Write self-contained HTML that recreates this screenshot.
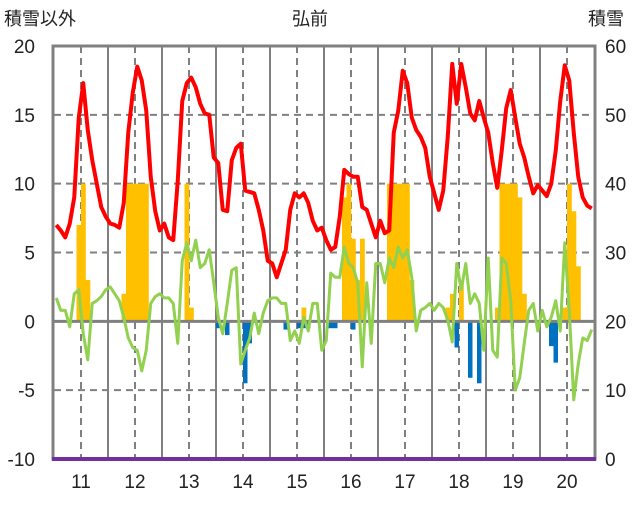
<!DOCTYPE html>
<html><head><meta charset="utf-8">
<style>
body{margin:0;background:#fff;width:636px;height:501px;overflow:hidden;font-family:"Liberation Sans","Noto Sans CJK JP",sans-serif}
svg text{font-family:"Liberation Sans","Noto Sans CJK JP",sans-serif;fill:#222}
</style></head>
<body>
<svg id="chart" width="636" height="501"></svg>
<script>
const years = ["11","12","13","14","15","16","17","18","19","20"];
const leftTicks = [20,15,10,5,0,-5,-10];
const rightTicks = [60,50,40,30,20,10,0];
const redValues = [
7,6.6,6.1,7.1,9,14.8,17.3,13.9,11.7,10,8.3,7.6,
7.1,7,6.8,8.6,13.7,16.6,18.5,17.5,15.3,10.5,8,6.6,
7.1,6.1,5.9,10.2,16,17.3,17.7,17,15.8,15.1,15,11.9,
11.5,8.1,8,11.7,12.6,12.9,9.5,9.4,9.3,8.1,6.6,4.4,
4.2,3.2,4.2,5.2,8.1,9.3,9,9.3,8.6,7.3,6.6,6.8,
5.9,5.2,5.4,7.6,11,10.7,10.5,10.5,8.3,8.1,7.1,6.1,
7.3,6.4,6.6,13.7,15.3,18.2,17.3,14.8,13.9,13.4,12.6,10.5,
9.3,8.1,9.5,13.4,18.7,15.8,18.7,17,15.1,14.6,16,14.8,
13.7,11.5,9.7,12.4,15.5,16.8,14.8,12.9,11.9,10.5,9.3,9.9,
9.5,9.1,10,12.4,16,18.6,17.5,13.7,10.5,9,8.4,8.2];
const greenValues = [
1.7,0.8,0.8,-0.4,2,2.3,-0.9,-2.8,1.3,1.5,1.8,2.3,
2.5,2,1.5,0.3,-1.2,-1.9,-2.1,-3.6,-2.1,1.3,1.8,2,
1.7,1.7,1.3,-1.6,4.4,5.7,4.4,5.9,3.9,4.2,5.2,2.8,
0.3,-0.9,1.3,3.7,3.9,-3.1,-2.1,-1.2,0.6,-0.9,0.6,1.5,
1.7,1.7,1.3,1.3,-1.4,-0.7,-1.6,0.3,-0.7,1.3,1.3,-2.1,
-1.4,3.5,3.2,3.2,5.4,4.2,3.9,2.8,-3.3,2.8,-1.6,4.2,
4.2,2.8,4.6,3.9,5.4,4.6,5.2,3.2,-0.7,0.8,1,1.3,
0.8,1.3,1,0.1,-1.5,4.2,2.3,4.2,1.3,2,1.3,-2.1,
4.6,-2.1,-2.6,4.6,4.2,1.5,-5,-4.1,-1.6,0.8,1.3,-0.7,
0.8,-0.4,0.3,1.5,-0.7,5.7,0.8,-5.7,-3.1,-1.2,-1.4,-0.6];
const snowMonths = [5,6,7,15,16,17,18,19,20,29,30,55,64,65,66,67,68,74,75,76,77,78,79,87,88,90,98,99,100,101,102,103,104,113,114,115,116];
const snowValues = [34,40,26,24,40,40,40,40,40,40,22,22,38,40,32,26,32,40,40,40,40,40,26,22,24,26,22,40,40,40,40,38,24,22,40,36,28];
const blueMonths = [36,38,42,43,51,54,55,56,61,62,66,89,92,94,110,111];
const blueValues = [-0.5,-1,-4.5,-1.6,-0.6,-0.5,-0.5,-0.5,-0.5,-0.5,-0.6,-1.9,-4.1,-4.5,-1.8,-3];

const NS="http://www.w3.org/2000/svg";
const svg=document.getElementById('chart');
const X0=54,X1=594,YT=46,YB=459;
const mw=(X1-X0)/120;
function yL(v){return YB-(v+10)/30*(YB-YT);}
function yR(v){return YB-v/60*(YB-YT);}
function xM(i){return X0+(i+0.5)*mw;}
function mk(tag,attrs){const e=document.createElementNS(NS,tag);for(const k in attrs)e.setAttribute(k,attrs[k]);svg.appendChild(e);return e;}

// grid
leftTicks.forEach(v=>{
  if(v===20||v===-10||v===0)return;
  const g=mk('line',{x1:X0,x2:X1,y1:yL(v),y2:yL(v),stroke:'#808080','stroke-width':2,'stroke-dasharray':'7,5'});
  
  
});
for(let k=0;k<10;k++){
  const xd=X0+(k+0.5)*54;
  const d=mk('line',{x1:xd,x2:xd,y1:YT,y2:YB,stroke:'#808080','stroke-width':2,'stroke-dasharray':'7,5'});
  
  
  if(k>0){
    const s=mk('line',{x1:X0+k*54,x2:X0+k*54,y1:YT,y2:YB,stroke:'#808080','stroke-width':2});
    
    
  }
}
// orange snow bars
snowMonths.forEach((m,i)=>{
  const y=yR(snowValues[i]);
  const r=mk('rect',{x:X0+m*mw,y:y,width:mw+0.3,height:yR(20)-y,fill:'#ffc000'});
  
  
});
// blue bars
blueMonths.forEach((m,i)=>{
  const r=mk('rect',{x:X0+m*mw,y:yL(0),width:mw,height:yL(blueValues[i])-yL(0),fill:'#0070c0'});
  
  
});
// zero line
const z=mk('line',{x1:X0,x2:X1,y1:yL(0),y2:yL(0),stroke:'#808080','stroke-width':3});


// green line
const gl=mk('polyline',{points:greenValues.map((v,i)=>xM(i)+','+yL(v)).join(' '),fill:'none',stroke:'#92d050','stroke-width':3,'stroke-linejoin':'round'});


// red line
const rl=mk('polyline',{points:redValues.map((v,i)=>xM(i)+','+yL(v)).join(' '),fill:'none',stroke:'#ff0000','stroke-width':4,'stroke-linejoin':'round'});


// border
const b=mk('rect',{x:X0-1,y:YT,width:X1-X0+2,height:YB-YT,fill:'none',stroke:'#808080','stroke-width':3});


const p=mk('line',{x1:X0-2,x2:X1+2,y1:YB,y2:YB,stroke:'#7030a0','stroke-width':4});


// tick labels
leftTicks.forEach(v=>{
  const t=mk('text',{x:35,y:yL(v)+7,'text-anchor':'end','font-size':19});
  t.textContent=v;
  
  
});
rightTicks.forEach(v=>{
  const t=mk('text',{x:605,y:yR(v)+7,'text-anchor':'start','font-size':19});
  t.textContent=v;
  
  
});
years.forEach((y,k)=>{
  const t=mk('text',{x:X0+(k+0.5)*54,y:488,'text-anchor':'middle','font-size':19});
  t.textContent=y;
  
  
});
const ti=mk('text',{x:310,y:25,'text-anchor':'middle','font-size':18});
ti.textContent='弘前';


const la=mk('text',{x:4,y:25,'font-size':18});
la.textContent='積雪以外';


const ra=mk('text',{x:588,y:25,'font-size':18});
ra.textContent='積雪';


</script>
</body></html>
